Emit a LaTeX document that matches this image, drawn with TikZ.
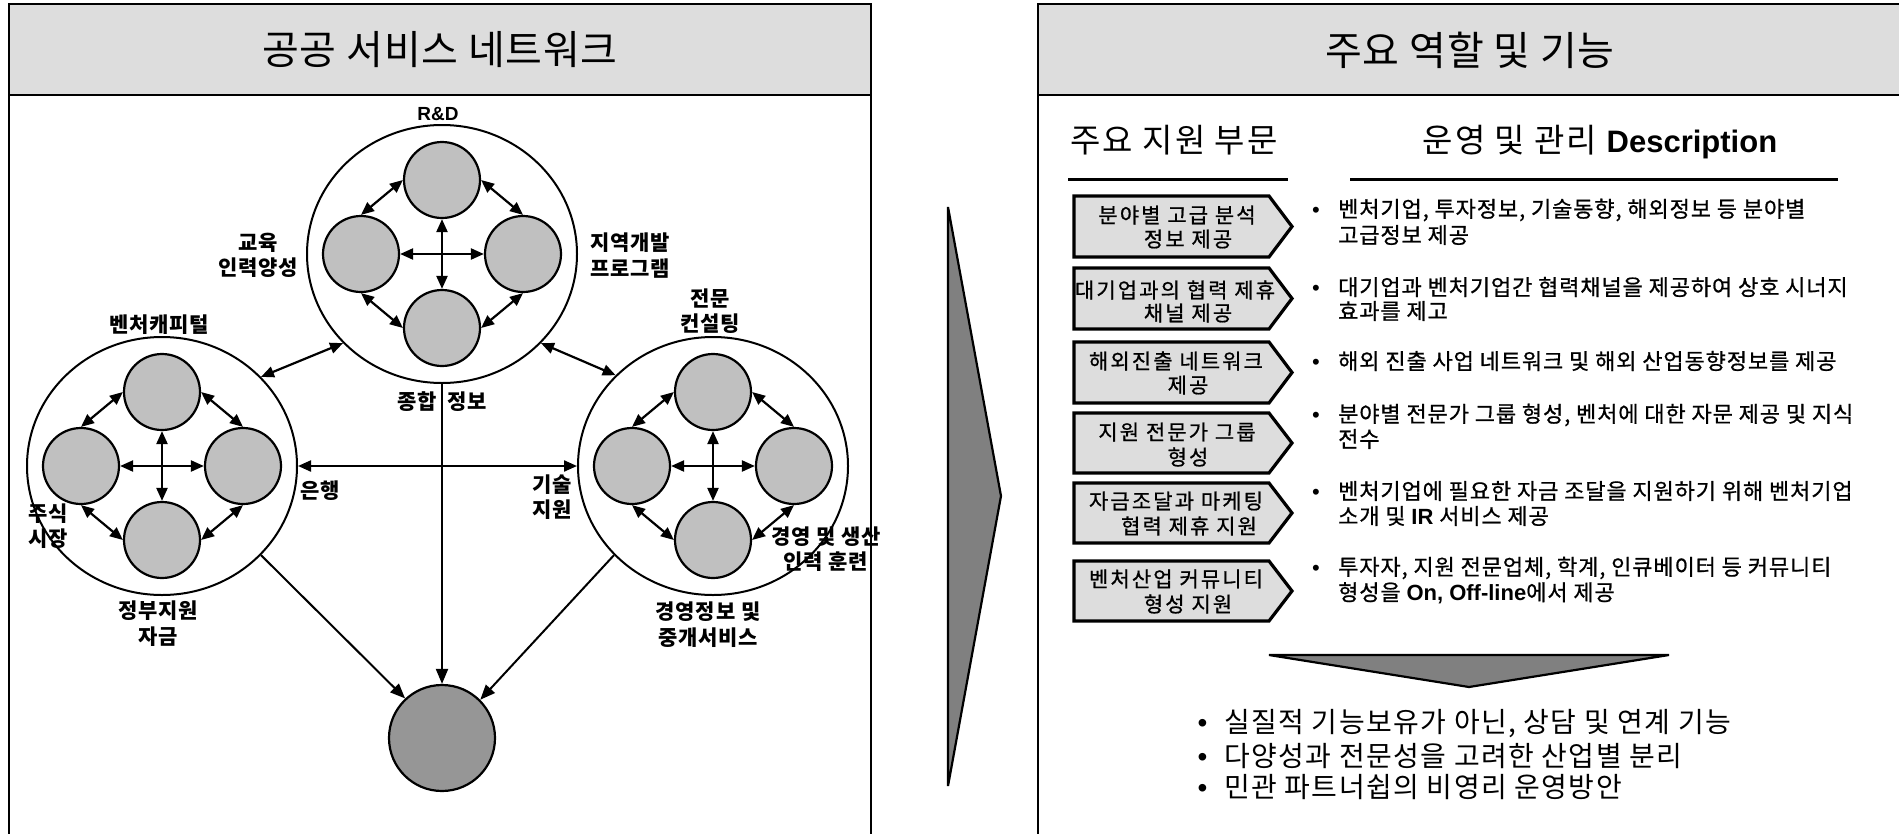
\documentclass[tikz,border=0pt]{standalone}
\usepackage{fontspec}
\setmainfont{Noto Sans CJK KR}
\newfontfamily\latf{Liberation Sans}
\newfontfamily\boxf[LetterSpace=10,FakeBold=0.8]{Noto Sans CJK KR}
\newfontfamily\itmf[LetterSpace=4,FakeBold=0.8]{Noto Sans CJK KR}
\newfontfamily\bigf[LetterSpace=5]{Noto Sans CJK KR}
\newfontfamily\hdf[LetterSpace=6]{Noto Sans CJK KR}
\newfontfamily\ttlf[LetterSpace=2]{Noto Sans CJK KR}
\newfontfamily\lblf[LetterSpace=4]{Noto Sans CJK KR}
\usetikzlibrary{arrows.meta,shapes.geometric}
\definecolor{hdrgray}{HTML}{DDDDDD}
\definecolor{circgray}{HTML}{C0C0C0}
\definecolor{hubgray}{HTML}{969696}
\definecolor{trigray}{HTML}{808080}
\definecolor{boxgray}{HTML}{DDDDDD}
\newcommand\arrbox[2]{\draw[abox] (1074,#1) -- (1269,#1) -- (1292,{(#1+#2)/2}) -- (1269,#2) -- (1074,#2) -- cycle;}
\begin{document}
\begin{tikzpicture}[x=1pt,y=-1pt,
 panel/.style={draw=black,line width=2.5pt},
 big/.style={ellipse,draw=black,line width=2pt,minimum width=270pt,minimum height=258pt,inner sep=0pt},
 smallc/.style={circle,draw=black,line width=2.2pt,fill=circgray,minimum size=76pt,inner sep=0pt},
 hubc/.style={circle,draw=black,line width=2.2pt,fill=hubgray,minimum size=106pt,inner sep=0pt},
 dbl/.style={line width=2.2pt,{Triangle[length=13pt,width=11pt]}-{Triangle[length=13pt,width=11pt]}},
 onew/.style={line width=2pt,-{Triangle[length=15pt,width=12pt]}},
 tri/.style={draw=black,line width=2.2pt,fill=trigray,line join=miter},
 abox/.style={draw=black,line width=3.2pt,fill=boxgray},
 uline/.style={line width=3pt},
 ttl/.style={font=\ttlf\fontsize{40pt}{44pt}\selectfont,inner sep=0pt},
 hd/.style={font=\hdf\fontsize{33pt}{36pt}\selectfont,inner sep=0pt},
 lbl/.style={font=\lblf\fontsize{21pt}{25.5pt}\selectfont\bfseries,align=center,inner sep=0pt},
 btx/.style={font=\boxf\fontsize{21pt}{24pt}\selectfont,inner sep=0pt},
 itm/.style={font=\itmf\fontsize{22pt}{25pt}\selectfont,inner sep=0pt,anchor=west},
 bigitm/.style={font=\bigf\fontsize{28pt}{31pt}\selectfont,inner sep=0pt,anchor=west}
]
\useasboundingbox (0,0) rectangle (1899,833);
\clip (0,0) rectangle (1899,833);
\fill[white] (0,0) rectangle (1899,833);

% panels
\draw[panel] (9,4) rectangle (871,870);
\draw[panel,fill=hdrgray] (9,4) rectangle (871,95);
\draw[panel] (1038,4) rectangle (1940,870);
\draw[panel,fill=hdrgray] (1038,4) rectangle (1940,95);
\node[ttl] (ttl1) at (440,50) {공공 서비스 네트워크};
\node[ttl] (ttl2) at (1470,50) {주요 역할 및 기능};

% middle arrow
\draw[tri] (948,207) -- (1001,496) -- (948,786) -- cycle;

% left network
\node[big] (bT) at (442,254) {};
\node[big] (bL) at (162,466) {};
\node[big] (bR) at (713,466) {};
\node[hubc] (hub) at (442,738) {};
\foreach \n/\cx/\cy in {T/442/254,L/162/466,R/713/466}{
  \node[smallc] (\n-n) at (\cx,\cy-74) {};
  \node[smallc] (\n-w) at (\cx-81,\cy) {};
  \node[smallc] (\n-e) at (\cx+81,\cy) {};
  \node[smallc] (\n-s) at (\cx,\cy+74) {};
  \draw[dbl] (\n-w.north) -- (\n-n.west);
  \draw[dbl] (\n-n.east) -- (\n-e.north);
  \draw[dbl] (\n-e.south) -- (\n-s.east);
  \draw[dbl] (\n-s.west) -- (\n-w.south);
  \draw[dbl] (\n-w.east) -- (\n-e.west);
  \draw[dbl] (\n-n.south) -- (\n-s.north);
}
\draw[dbl] (bL.42) -- (bT.222);
\draw[dbl] (bT.318) -- (bR.137);
\draw[dbl] (bL.east) -- (bR.west);
\draw[onew] (bT.south) -- (hub.north);
\draw[onew] (bL.318) -- (hub.133);
\draw[onew] (bR.222) -- (hub.45);

% left labels
\node[font=\latf\bfseries\fontsize{19pt}{22pt}\selectfont,inner sep=0pt] (rd) at (438,114) {R\&D};
\node[lbl] (edu) at (258,255.5) {교육\\인력양성};
\node[lbl] (reg) at (630,255.5) {지역개발\\프로그램};
\node[lbl] (con) at (710,311) {전문\\컨설팅};
\node[lbl] (vc) at (159,325) {벤처캐피털};
\node[lbl] (bank) at (320,491) {은행};
\node[lbl] (tech) at (552,497) {기술\\지원};
\node[lbl] (stock) at (48,526) {주식\\시장};
\node[lbl] (gov) at (158,623.5) {정부지원\\자금};
\node[lbl] (mgmt) at (708,624.5) {경영정보 및\\중개서비스};
\node[lbl] (train) at (826,549) {경영 및 생산\\인력 훈련};
\node[lbl,anchor=east] (info1) at (437,402) {종합};
\node[lbl,anchor=west] (info2) at (447,402) {정보};

% right panel headings
\node[hd,anchor=base] (h1) at (1174,152) {주요 지원 부문};
\node[hd,anchor=base] (h2) at (1600,152) {운영 및 관리 {\latf\bfseries\fontsize{31pt}{34pt}\selectfont Description}};
\draw[uline] (1068,179) -- (1288,179);
\draw[uline] (1350,179) -- (1838,179);

% arrow boxes
\arrbox{196}{257}
\arrbox{268}{329}
\arrbox{342}{403}
\arrbox{413}{473}
\arrbox{483}{543}
\arrbox{561}{621}
\node[btx] (b1a) at (1177,215) {분야별 고급 분석};
\node[btx] (b1b) at (1188,239) {정보 제공};
\node[btx] (b2a) at (1175,290) {대기업과의 협력 제휴};
\node[btx] (b2b) at (1188,313) {채널 제공};
\node[btx] (b3a) at (1176,361) {해외진출 네트워크};
\node[btx] (b3b) at (1188,385) {제공};
\node[btx] (b4a) at (1177,432) {지원 전문가 그룹};
\node[btx] (b4b) at (1188,457) {형성};
\node[btx] (b5a) at (1176,501) {자금조달과 마케팅};
\node[btx] (b5b) at (1189,526) {협력 제휴 지원};
\node[btx] (b6a) at (1176,579) {벤처산업 커뮤니티};
\node[btx] (b6b) at (1188,604) {형성 지원};

% bullets
\node[itm] (d1a) at (1312,210) {\makebox[26pt][l]{\latf •}벤처기업, 투자정보, 기술동향, 해외정보 등 분야별};
\node[itm] (d1b) at (1338,235) {고급정보 제공};
\node[itm] (d2a) at (1312,287) {\makebox[26pt][l]{\latf •}대기업과 벤처기업간 협력채널을 제공하여 상호 시너지};
\node[itm] (d2b) at (1338,311) {효과를 제고};
\node[itm] (d3a) at (1312,361) {\makebox[26pt][l]{\latf •}해외 진출 사업 네트워크 및 해외 산업동향정보를 제공};
\node[itm] (d4a) at (1312,415) {\makebox[26pt][l]{\latf •}분야별 전문가 그룹 형성, 벤처에 대한 자문 제공 및 지식};
\node[itm] (d4b) at (1338,439) {전수};
\node[itm] (d5a) at (1312,491) {\makebox[26pt][l]{\latf •}벤처기업에 필요한 자금 조달을 지원하기 위해 벤처기업};
\node[itm] (d5b) at (1338,516) {소개 및 {\latf\bfseries IR} 서비스 제공};
\node[itm] (d6a) at (1312,568) {\makebox[26pt][l]{\latf •}투자자, 지원 전문업체, 학계, 인큐베이터 등 커뮤니티};
\node[itm] (d6b) at (1338,593) {형성을 {\latf\bfseries On, Off-line}에서 제공};

% down arrow
\draw[tri] (1269,655) -- (1669,655) -- (1469,687) -- cycle;

% conclusions
\node[bigitm] (c1) at (1197.5,724) {\makebox[26.5pt][l]{\latf •}실질적 기능보유가 아닌, 상담 및 연계 기능};
\node[bigitm] (c2) at (1197.5,756) {\makebox[26.5pt][l]{\latf •}다양성과 전문성을 고려한 산업별 분리};
\node[bigitm] (c3) at (1197.5,787) {\makebox[26.5pt][l]{\latf •}민관 파트너쉽의 비영리 운영방안};
\end{tikzpicture}
\end{document}
